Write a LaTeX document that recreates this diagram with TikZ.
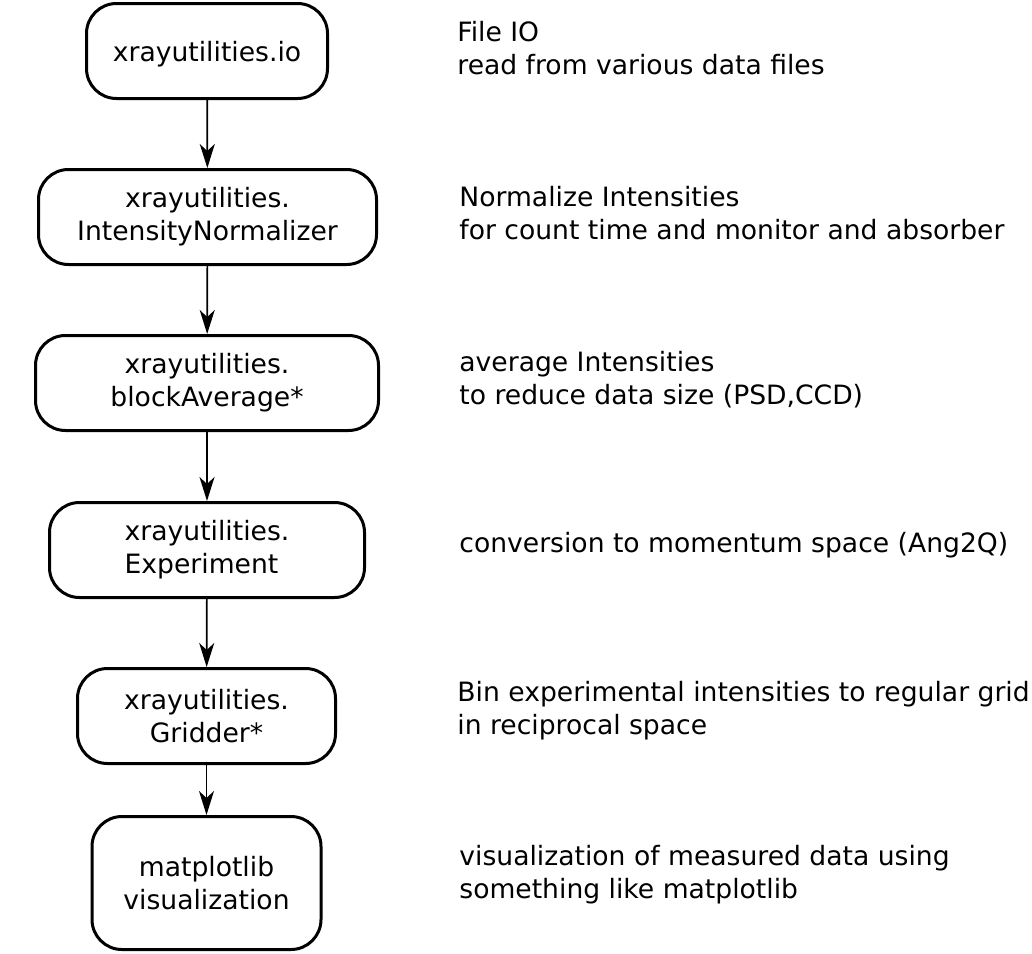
\documentclass[tikz,border=0pt]{standalone}
\usepackage{fontspec}
\setmainfont{DejaVu Sans}
\usetikzlibrary{arrows.meta}

\begin{document}
\begin{tikzpicture}[x=0.5pt,y=-0.5pt,
	box/.style={draw, line width=1.5pt, rounded corners=15pt, minimum height=47.5pt, align=center, inner sep=0pt, font=\fontsize{13.3}{16.5}\selectfont},
	desc/.style={anchor=base west, align=left, inner sep=0pt, font=\fontsize{13.3}{16.5}\selectfont},
	arr/.style={-{Stealth[length=12pt,width=7.5pt,inset=3.5pt]}, line width=0.85pt}]
	\useasboundingbox (0,0) rectangle (1032,953);

	\node[box, minimum width=120.5pt, text depth=0pt] (io) at (207,51) {xrayutilities.io};
	\node[box, minimum width=169pt] (norm) at (207.5,217) {xrayutilities.\\IntensityNormalizer};
	\node[box, minimum width=171.5pt] (avg) at (207,383) {xrayutilities.\\blockAverage*};
	\node[box, minimum width=157.5pt, align=left] (exp) at (207,550) {xrayutilities.\\Experiment};
	\node[box, minimum width=129pt] (grid) at (206.5,716) {xrayutilities.\\Gridder*};
	\node[box, minimum width=114.5pt, minimum height=66.5pt] (vis) at (206.5,883) {matplotlib\\visualization};

	\draw[arr] (io) -- (norm);
	\draw[arr] (norm) -- (avg);
	\draw[arr] (avg) -- (exp);
	\draw[arr] (exp) -- (grid);
	\draw[arr] (grid) -- (vis);

	\node[desc] (io-txt) at (457,74) {File IO\\read from various data files};
	\node[desc] (norm-txt) at (459,239) {Normalize Intensities\\for count time and monitor and absorber};
	\node[desc] (avg-txt) at (459,404) {average Intensities\\to reduce data size (PSD,CCD)};
	\node[desc] (exp-txt) at (459,552) {conversion to momentum space (Ang2Q)};
	\node[desc] (grid-txt) at (457,734) {Bin experimental intensities to regular grid\\in reciprocal space};
	\node[desc] (vis-txt) at (459,898) {visualization of measured data using\\something like matplotlib};
\end{tikzpicture}
\end{document}
